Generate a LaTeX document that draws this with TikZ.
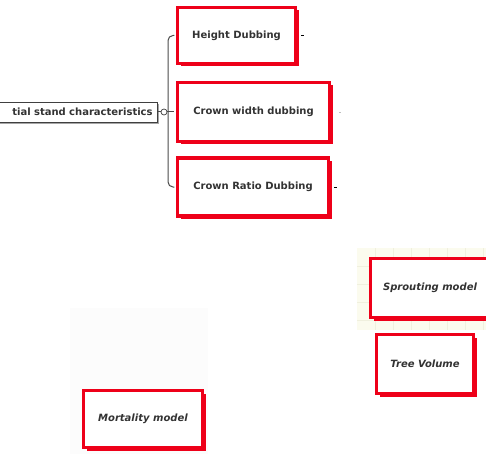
\documentclass[tikz,border=0pt]{standalone}
\usepackage{fontspec}
\setmainfont{DejaVu Sans}
\usetikzlibrary{shadows}
\definecolor{boxred}{HTML}{EE0019}
\definecolor{txtgray}{HTML}{333333}
\definecolor{gridyellow}{HTML}{FBFBEE}
\definecolor{gridline}{HTML}{F0F0DE}
\begin{document}
\begin{tikzpicture}[x=1pt,y=-1pt,
  redbox/.style={draw=boxred, line width=3.5pt, fill=white, inner sep=0pt,
    font=\bfseries\fontsize{10}{12}\selectfont, text=txtgray,
    drop shadow={shadow xshift=3pt, shadow yshift=-3pt, fill=boxred, opacity=1}},
  italbox/.style={redbox, font=\bfseries\itshape\fontsize{10}{12}\selectfont},
  rootbox/.style={draw=black!75, line width=0.8pt, fill=white, inner sep=0pt,
    font=\bfseries\fontsize{10}{12}\selectfont, text=txtgray,
    drop shadow={shadow xshift=1.5pt, shadow yshift=-2pt, fill=black!35, opacity=1}},
  knobst/.style={circle, draw=black!75, line width=0.7pt, fill=white, inner sep=0pt, minimum size=6pt},
  branch/.style={draw=black!70, line width=1pt, rounded corners=5pt},
  tick/.style={draw=black, line width=0.8pt}
]
\useasboundingbox (0,0) rectangle (486,454);
\fill[white] (0,0) rectangle (486,454);
% faint background areas
\fill[gridyellow] (357,248) rectangle (486,330);
\foreach \gx in {375,393,...,486} \draw[gridline, line width=0.5pt] (\gx,248) -- (\gx,330);
\foreach \gy in {266,284,...,330} \draw[gridline, line width=0.5pt] (357,\gy) -- (486,\gy);
\fill[black!1] (70,308) rectangle (208,454);

% root node (cut by the left edge)
\node[rootbox, text width=150pt, align=right, inner xsep=5pt, minimum height=20pt, anchor=east]
  (root) at (158,112) {tial stand characteristics};
\node[knobst] (knob) at (164,112) {};

% boxes
\node[redbox, minimum width=118pt, minimum height=56pt] (hd) at (236.5,35.5) {Height Dubbing};
\node[redbox, minimum width=152pt, minimum height=59pt] (cw) at (253.5,112) {Crown width dubbing};
\node[redbox, minimum width=151pt, minimum height=58pt] (cr) at (253,187) {Crown Ratio Dubbing};
\node[italbox, minimum width=119pt, minimum height=59pt] (sp) at (430,288) {Sprouting model};
\node[italbox, minimum width=97pt, minimum height=59pt] (tv) at (425,364) {Tree Volume};
\node[italbox, minimum width=119pt, minimum height=57pt] (mm) at (143,419) {Mortality model};

% connectors
\coordinate (fork) at (168,112);
\draw[branch] (root.east) -- (knob.west);
\draw[branch] (knob.east) -- (fork);
\draw[branch, shorten >=1.5pt] (fork) |- (hd.west);
\draw[branch, shorten >=1.5pt] (fork) -- (cw.west);
\draw[branch, shorten >=1.5pt] (fork) |- (cr.west);

% collapsed-branch ticks
\draw[tick] ([xshift=4pt]hd.east) -- ([xshift=7pt]hd.east);
\draw[tick, draw=black!25] ([xshift=8pt]cw.east) -- ([xshift=10pt]cw.east);
\draw[tick] ([xshift=4pt]cr.east) -- ([xshift=7pt]cr.east);
\end{tikzpicture}
\end{document}
